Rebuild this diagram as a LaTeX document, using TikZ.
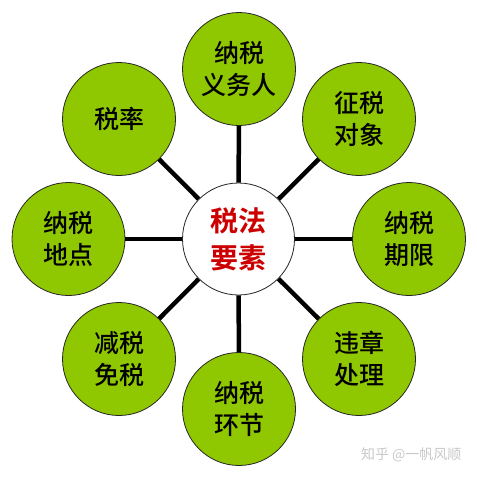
\documentclass[tikz,border=0pt]{standalone}
\usepackage{fontspec}
\newfontfamily\cjk{Noto Sans CJK SC Medium}
\newfontfamily\cjkb{Noto Sans CJK SC Bold}
\newfontfamily\cjkl{Noto Sans CJK SC}
\definecolor{leaf}{RGB}{143,199,0}
\definecolor{redtxt}{RGB}{204,0,0}
\definecolor{wm}{RGB}{200,200,200}
\begin{document}
\begin{tikzpicture}[x=1pt,y=-1pt,
  outer/.style={circle,draw=black!85,line width=0.8pt,fill=leaf,minimum size=113pt,inner sep=0pt,
    align=center,font=\cjk\fontsize{25}{32}\selectfont},
  hub/.style={circle,draw=black!85,line width=0.8pt,fill=white,minimum size=112pt,inner sep=0pt,
    align=center,text=redtxt,font=\cjkb\fontsize{28}{37}\selectfont},
  spoke/.style={line width=4.5pt,black}]
\useasboundingbox (0,0) rectangle (477,477);
\node[hub] (c) at (238.5,239) {税法\\要素};
\node[outer] (n) at (239,69) {纳税\\义务人};
\node[outer] (ne) at (359,119) {征税\\对象};
\node[outer] (e) at (409,239) {纳税\\期限};
\node[outer] (se) at (359,359) {违章\\处理};
\node[outer] (s) at (239,409) {纳税\\环节};
\node[outer] (sw) at (119,359) {减税\\免税};
\node[outer] (w) at (68.5,239) {纳税\\地点};
\node[outer] (nw) at (119,119) {税率};
\foreach \o in {n,ne,e,se,s,sw,w,nw}{
  \draw[spoke] (c) -- (\o);
}
\node[font=\cjkl\fontsize{14}{14}\selectfont,text=wm,anchor=east] (wmark) at (465,455) {知乎 @一帆风顺};
\end{tikzpicture}
\end{document}
